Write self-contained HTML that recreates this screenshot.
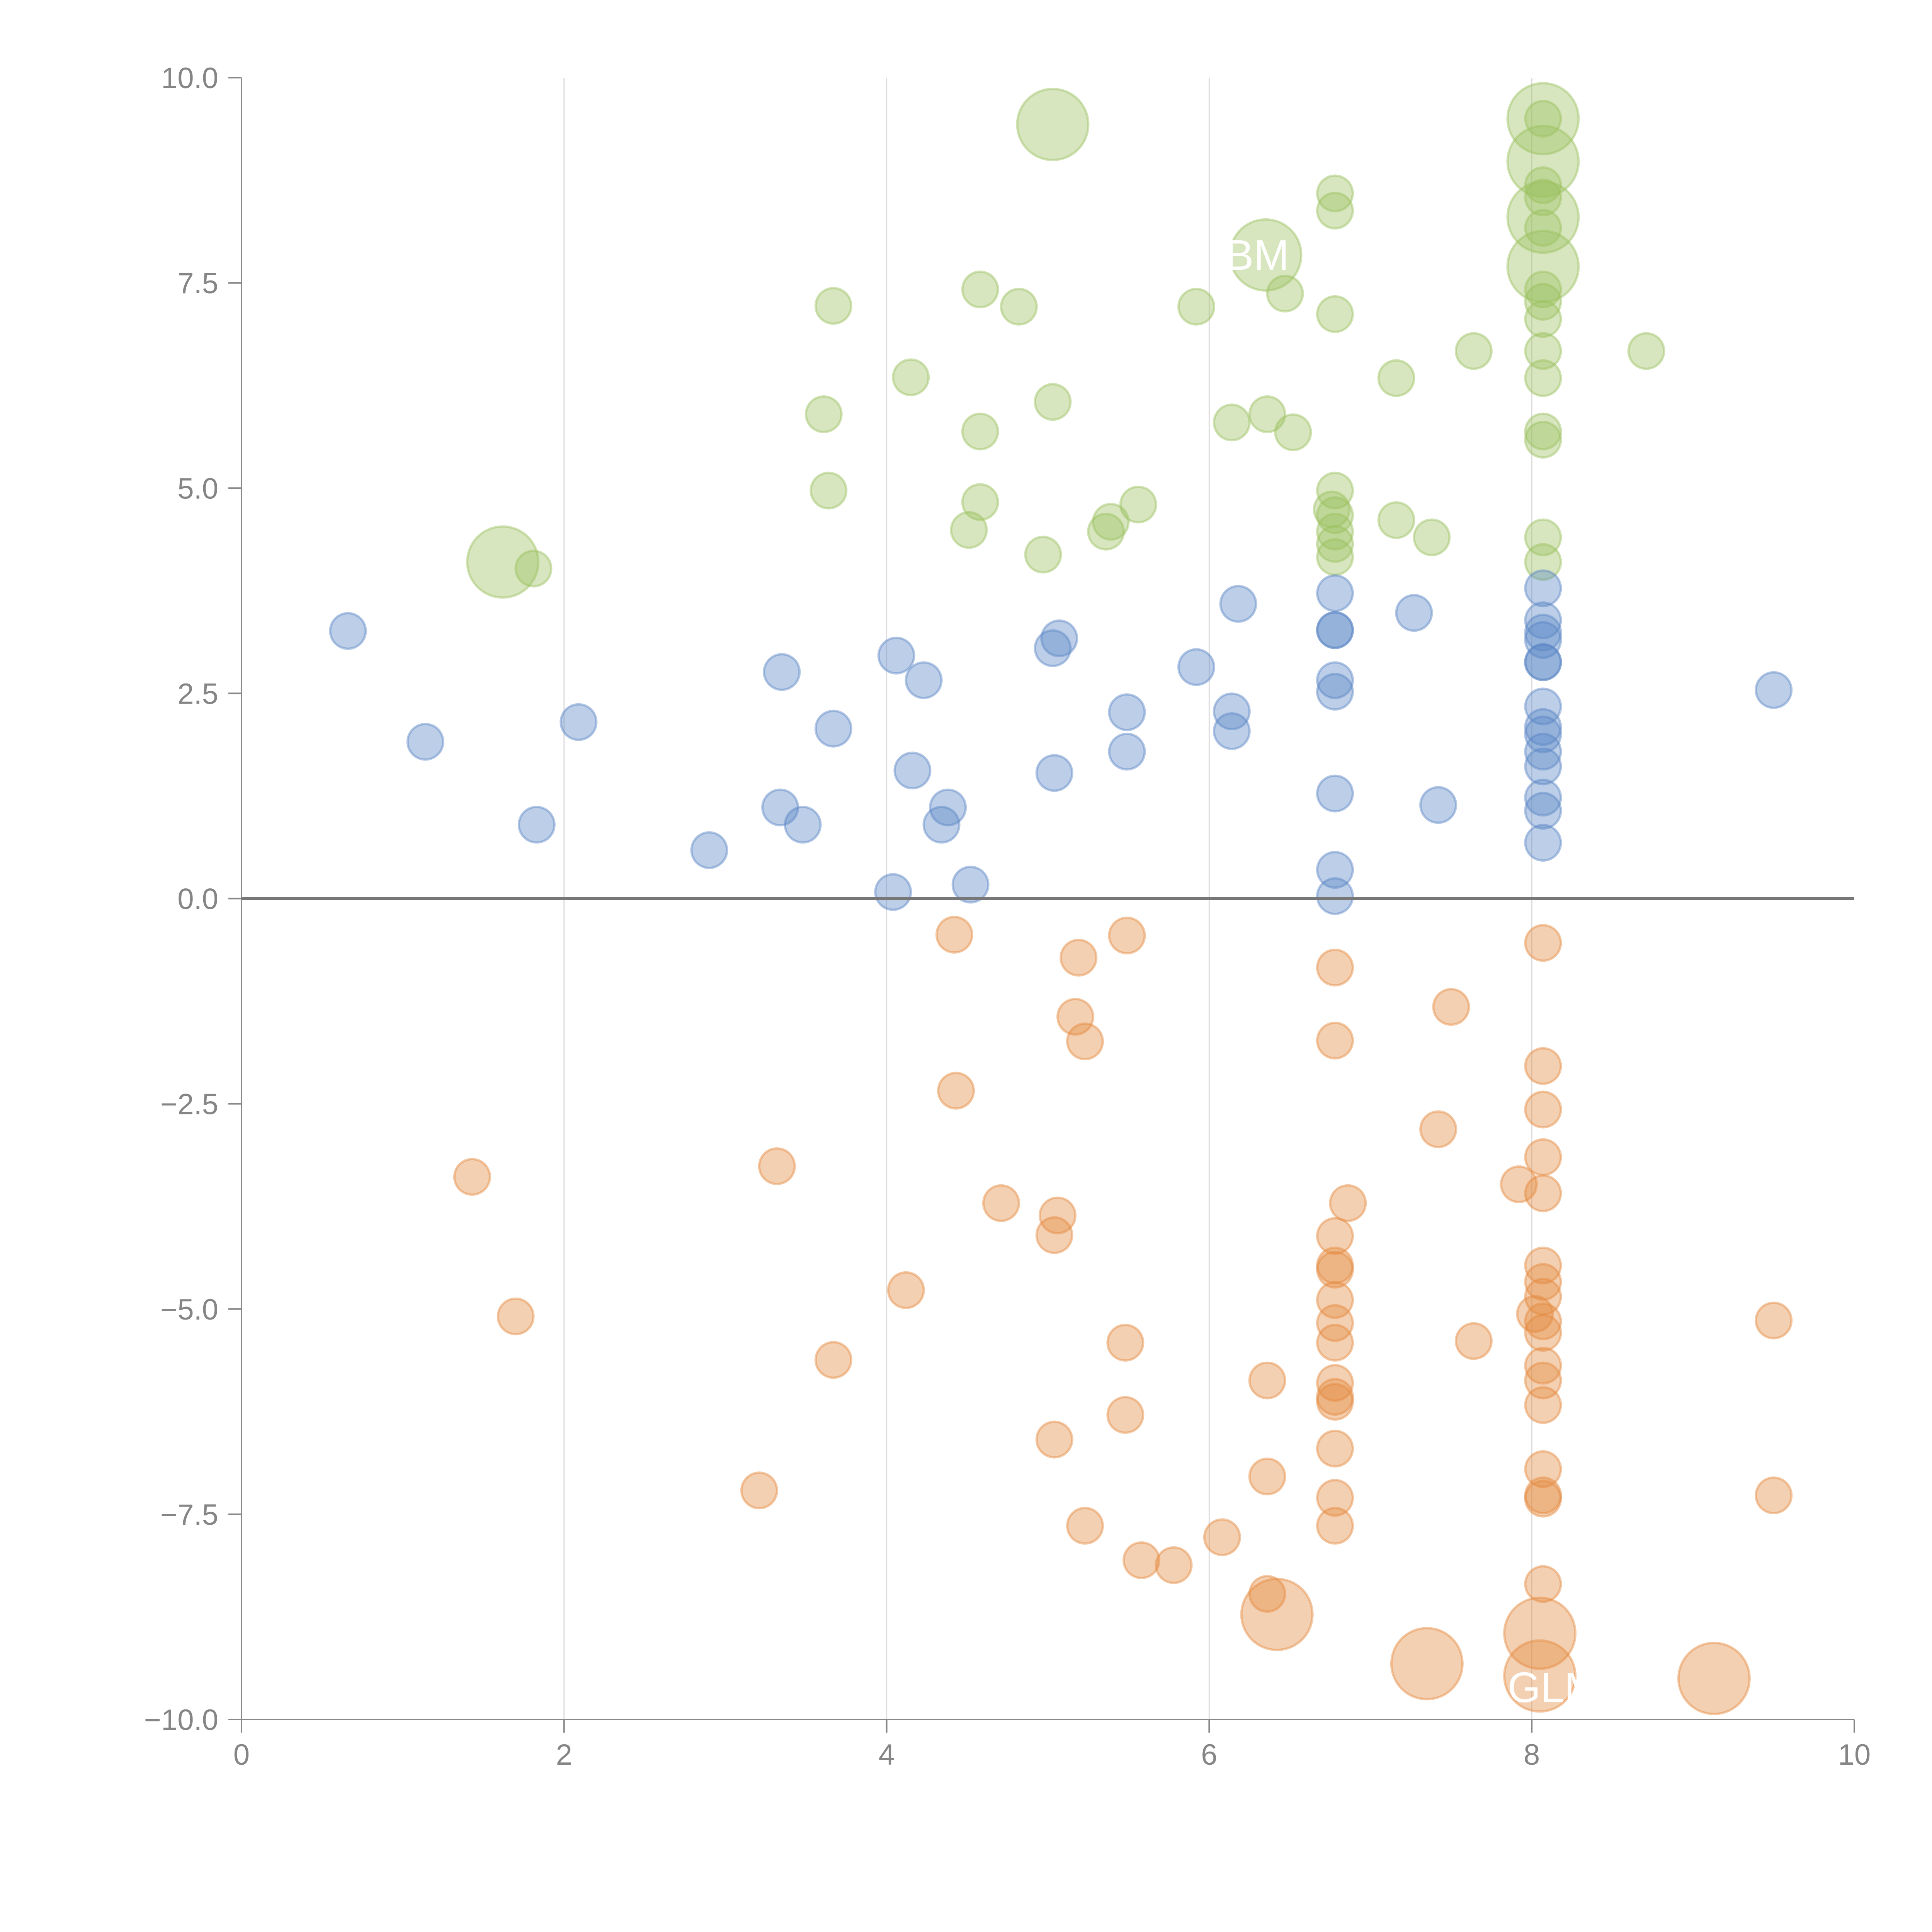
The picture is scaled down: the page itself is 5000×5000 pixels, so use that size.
<!DOCTYPE html>
<html><head><meta charset="utf-8">
<style>
html,body{margin:0;padding:0;background:#fff;}
svg{display:block;}
text{font-family:"Liberation Sans",sans-serif;}
</style></head>
<body>
<svg id="chart" width="5000" height="5000" viewBox="0 0 5000 5000" xmlns="http://www.w3.org/2000/svg">
<rect width="5000" height="5000" fill="#fff"/>
<g id="grid"></g><g id="marks"></g><g id="axes"></g><g id="labels"></g>
</svg>
<script>
const xTicks=[0,2,4,6,8,10];
const yTicks=[-10,-7.5,-5,-2.5,0,2.5,5,7.5,10];
const yTickLabels=["\u221210.0","\u22127.5","\u22125.0","\u22122.5","0.0","2.5","5.0","7.5","10.0"];

const greenX=[5.03,8.07,8.07,8.07,8.07,6.35,1.62,8.07,6.78,6.78,8.07,8.07,8.07,8.07,8.07,8.07,8.07,8.07,8.07,8.07,8.07,8.07,3.67,4.58,4.82,5.92,6.47,6.78,4.15,7.64,7.16,8.71,3.61,5.03,4.58,6.14,6.36,6.52,3.64,4.58,4.51,4.97,5.36,5.39,5.56,6.78,6.78,6.78,6.78,6.78,6.76,7.16,7.38,1.81];
const greenY=[9.43,9.5,8.98,8.3,7.7,7.84,4.1,9.5,8.59,8.38,8.69,8.54,8.17,7.42,7.27,7.06,6.67,6.34,5.69,5.59,4.4,4.1,7.22,7.42,7.21,7.21,7.37,7.12,6.35,6.67,6.34,6.67,5.9,6.05,5.69,5.8,5.9,5.68,4.97,4.83,4.49,4.19,4.47,4.59,4.8,4.97,4.67,4.47,4.32,4.16,4.74,4.61,4.4,4.02];
const greenS=[4,4,4,4,4,4,4,1,1,1,1,1,1,1,1,1,1,1,1,1,1,1,1,1,1,1,1,1,1,1,1,1,1,1,1,1,1,1,1,1,1,1,1,1,1,1,1,1,1,1,1,1,1,1];

const blueX=[0.66,1.14,2.09,1.83,2.9,3.35,3.34,3.48,3.67,4.06,4.23,4.16,4.38,4.34,4.04,4.52,5.03,5.07,5.04,5.49,5.49,5.92,6.18,6.14,6.14,6.78,6.78,6.78,6.78,6.78,6.78,6.78,6.78,7.27,7.42,8.07,8.07,8.07,8.07,8.07,8.07,8.07,8.07,8.07,8.07,8.07,8.07,8.07,8.07,9.5];
const blueY=[3.26,1.91,2.15,0.9,0.59,2.76,1.11,0.9,2.07,2.96,2.66,1.56,1.11,0.9,0.08,0.17,3.05,3.17,1.53,2.27,1.79,2.82,3.59,2.28,2.04,3.72,3.27,3.27,2.66,2.52,1.28,0.35,0.03,3.48,1.14,3.78,3.39,3.24,3.15,2.88,2.88,2.34,2.09,2.0,1.79,1.61,1.23,1.07,0.68,2.54];
const blueS=blueX.map(()=>1);

const orangeX=[6.42,7.35,8.05,8.05,9.13,1.43,1.7,3.32,3.21,3.67,4.12,4.42,4.43,4.71,5.04,5.04,5.06,5.19,5.17,5.23,5.23,5.49,5.48,5.48,5.58,5.78,6.08,6.36,6.36,6.36,6.78,6.78,6.86,6.78,6.78,6.78,6.78,6.78,6.78,6.78,6.78,6.78,6.78,6.78,6.78,7.5,7.42,7.64,7.92,8.07,8.07,8.07,8.07,8.07,8.07,8.07,8.07,8.02,8.07,8.07,8.07,8.07,8.07,8.07,8.07,8.07,8.07,9.5,9.5];
const orangeY=[-8.72,-9.32,-8.95,-9.47,-9.5,-3.39,-5.09,-3.26,-7.21,-5.62,-4.77,-0.44,-2.34,-3.71,-6.59,-4.1,-3.86,-0.72,-1.44,-1.74,-7.64,-0.45,-5.41,-6.29,-8.06,-8.12,-7.78,-5.87,-7.04,-8.47,-0.84,-1.73,-3.71,-4.11,-4.47,-4.52,-4.89,-5.17,-5.41,-5.9,-6.07,-6.13,-6.7,-7.3,-7.64,-1.32,-2.81,-5.39,-3.48,-0.54,-2.04,-2.57,-3.15,-3.59,-4.47,-4.67,-4.85,-5.06,-5.15,-5.29,-5.69,-5.87,-6.17,-6.95,-7.27,-7.31,-8.35,-5.14,-7.27];
const orangeS=orangeX.map((v,i)=>i<5?4:1);

const NS="http://www.w3.org/2000/svg";
const X0=625,X1=4799,Y0=4450,Y1=201;
function sx(v){return X0+(v-0)/(10-0)*(X1-X0);}
function sy(v){return Y0-(v+10)/20*(Y0-Y1);}
function mk(tag,attrs,parent){const e=document.createElementNS(NS,tag);for(const k in attrs)e.setAttribute(k,attrs[k]);parent.appendChild(e);return e;}
const grid=document.getElementById('grid'),marks=document.getElementById('marks'),axes=document.getElementById('axes'),labels=document.getElementById('labels');

xTicks.forEach(t=>{
  if(t>0&&t<10){
    const g=mk('line',{x1:sx(t),x2:sx(t),y1:Y1,y2:Y0,stroke:'#dcdcdc','stroke-width':3},grid);
    
    
  }
  const tk=mk('line',{x1:sx(t),x2:sx(t),y1:Y0,y2:Y0+34,stroke:'#888','stroke-width':4},axes);
  
  
  const tx=mk('text',{x:sx(t),y:Y0+117,'text-anchor':'middle','font-size':76,fill:'#858585'},axes);
  tx.textContent=String(t);
  
  
});
yTicks.forEach((t,i)=>{
  const tk=mk('line',{x1:X0-34,x2:X0,y1:sy(t),y2:sy(t),stroke:'#888','stroke-width':4},axes);
  
  
  const tx=mk('text',{x:X0-60,y:sy(t)+27,'text-anchor':'end','font-size':76,fill:'#858585'},axes);
  tx.textContent=yTickLabels[i];
  
  
});
const ya=mk('line',{x1:X0,x2:X0,y1:Y1,y2:Y0,stroke:'#888','stroke-width':4},axes);


const xa=mk('line',{x1:X0,x2:X1,y1:Y0,y2:Y0,stroke:'#888','stroke-width':4},axes);



function series(xs,ys,ss,col,name){
  xs.forEach((v,i)=>{
    const c=mk('circle',{cx:sx(v),cy:sy(ys[i]),r:46*Math.sqrt(ss[i]),fill:col,'fill-opacity':0.4,stroke:col,'stroke-opacity':0.45,'stroke-width':6},marks);
    
    
  });
}
series(greenX,greenY,greenS,'#9bc160','green');
series(blueX,blueY,blueS,'#5a86c5','blue');
series(orangeX,orangeY,orangeS,'#e4893f','orange');

const zl=mk('line',{x1:X0,x2:X1,y1:sy(0),y2:sy(0),stroke:'#777','stroke-width':7},axes);



const lbl=[["BM",6.1,7.85],["GLM",7.85,-9.6]];
lbl.forEach(l=>{
  const t=mk('text',{x:sx(l[1]),y:sy(l[2])+40,'font-size':110,fill:'#fff'},labels);
  t.textContent=l[0];
  
  
});
</script>
</body></html>
